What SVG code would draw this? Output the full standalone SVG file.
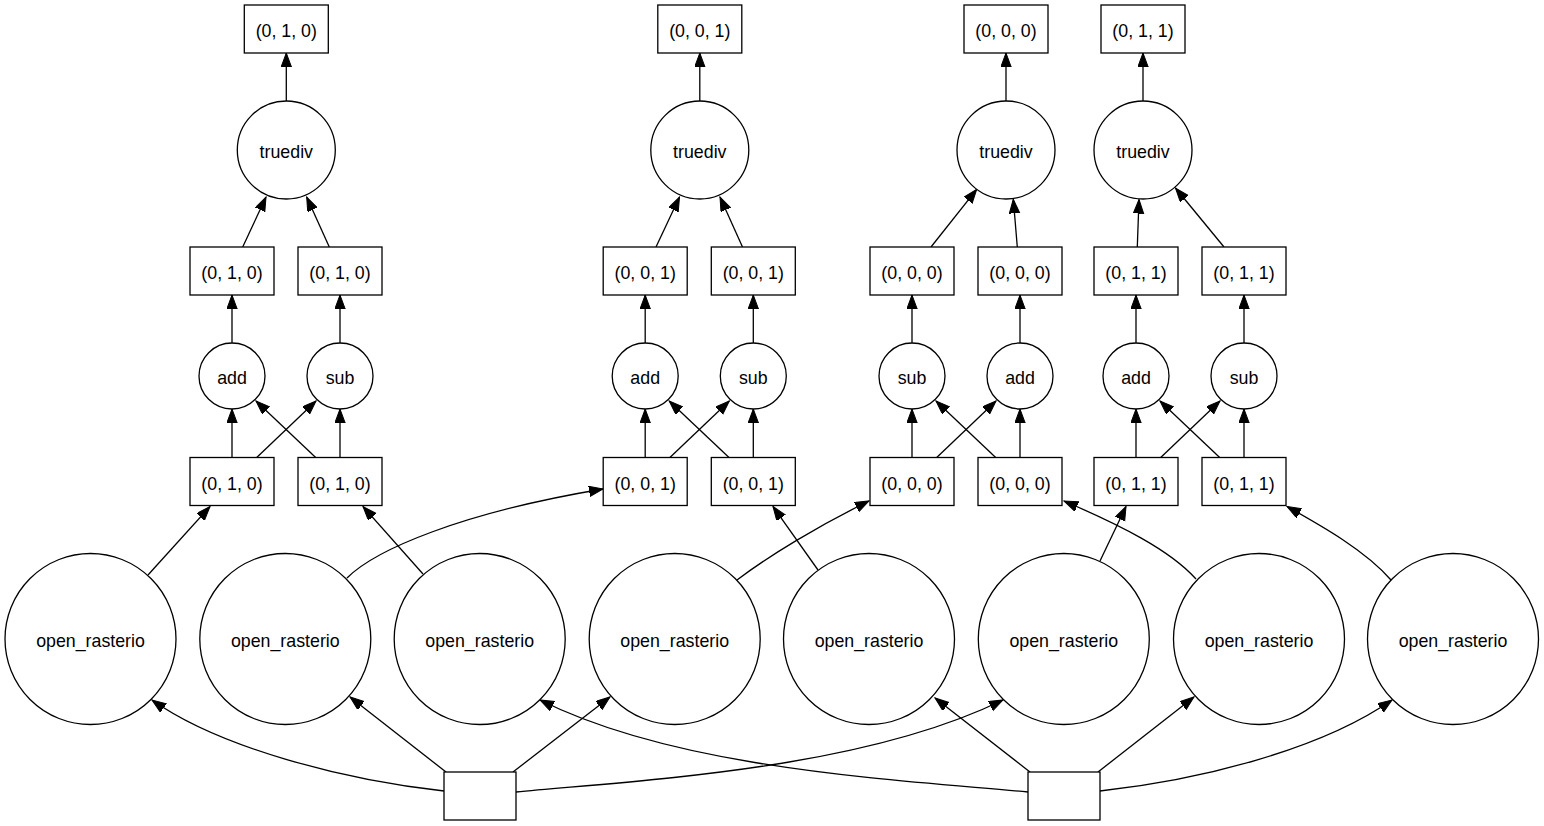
<svg xmlns="http://www.w3.org/2000/svg" width="1544" height="826" viewBox="0 0 1544 826">
<defs>
<style>
.n{fill:#fff;stroke:#000;stroke-width:1.3}
.t{font-family:"Liberation Sans",Arial,Helvetica,sans-serif;font-size:17.8px;text-anchor:middle;fill:#000}
.e{fill:none;stroke:#000;stroke-width:1.3;marker-end:url(#ah)}
</style>
<marker id="ah" markerWidth="16" markerHeight="12" refX="14" refY="5.2" orient="auto" markerUnits="userSpaceOnUse">
<path d="M0,0 L14,5.2 L0,10.4 z" fill="#000" stroke="#000" stroke-width="1"/>
</marker>
</defs>
<rect width="1544" height="826" fill="#fff"/>
<g id="connectors">
<!-- group A -->
<path class="e" d="M286.3,101 L286.3,53"/>
<path class="e" d="M242.7,247 L266,197"/>
<path class="e" d="M329.3,247 L306.7,197"/>
<path class="e" d="M232,343 L232,295"/>
<path class="e" d="M340,343 L340,295"/>
<path class="e" d="M232,457.5 L232,409"/>
<path class="e" d="M340,457.5 L340,409"/>
<path class="e" d="M256.7,457.5 L316,401"/>
<path class="e" d="M315.7,457.5 L256,401"/>
<!-- group B -->
<path class="e" d="M699.8,101 L699.8,53"/>
<path class="e" d="M656,247 L679.5,197"/>
<path class="e" d="M742.5,247 L720,197"/>
<path class="e" d="M645.2,343 L645.2,295"/>
<path class="e" d="M753.3,343 L753.3,295"/>
<path class="e" d="M645.2,457.5 L645.2,409"/>
<path class="e" d="M753.3,457.5 L753.3,409"/>
<path class="e" d="M669.9,457.5 L729.3,401"/>
<path class="e" d="M729,457.5 L669.2,401"/>
<!-- group C -->
<path class="e" d="M1006,101 L1006,53"/>
<path class="e" d="M931,247 L976.7,189.3"/>
<path class="e" d="M1017.3,247 L1013.3,199.3"/>
<path class="e" d="M912,343 L912,295"/>
<path class="e" d="M1020,343 L1020,295"/>
<path class="e" d="M912,457.5 L912,409"/>
<path class="e" d="M1020,457.5 L1020,409"/>
<path class="e" d="M936.7,457.5 L996,401"/>
<path class="e" d="M995.7,457.5 L936,401"/>
<!-- group D -->
<path class="e" d="M1143,101 L1143,53"/>
<path class="e" d="M1137.3,247 L1139,199.5"/>
<path class="e" d="M1224,247 L1175.5,188"/>
<path class="e" d="M1136,343 L1136,295"/>
<path class="e" d="M1244,343 L1244,295"/>
<path class="e" d="M1136,457.5 L1136,409"/>
<path class="e" d="M1244,457.5 L1244,409"/>
<path class="e" d="M1160.7,457.5 L1220,401"/>
<path class="e" d="M1219.7,457.5 L1160,401"/>
<!-- open_rasterio to chunks -->
<path class="e" d="M148,575 L210,506.5"/>
<path class="e" d="M347,578 C375,550 460,513 603,489"/>
<path class="e" d="M423,574 L363,506.5"/>
<path class="e" d="M737,580 C770,555 820,525 869,501"/>
<path class="e" d="M818,570 L773,506.5"/>
<path class="e" d="M1100,561 L1126,506.5"/>
<path class="e" d="M1196,579 C1170,550 1120,525 1064,501"/>
<path class="e" d="M1391,580 C1365,550 1320,525 1287,506.5"/>
<!-- bottom boxes to open_rasterio -->
<path class="e" d="M444,791 C344,780 220,748 152,700"/>
<path class="e" d="M446,772 L350,697"/>
<path class="e" d="M513,772 L610,697"/>
<path class="e" d="M516,792 C640,780 860,770 1003,700"/>
<path class="e" d="M1028,792 C900,780 680,770 540,700"/>
<path class="e" d="M1030,772 L935,698"/>
<path class="e" d="M1098,772 L1194,697"/>
<path class="e" d="M1100,791 C1200,780 1320,750 1392,700"/>
</g>
<!-- top boxes -->
<g id="top_A"><rect class="n" x="244.3" y="5" width="84" height="48"/><text class="t" x="286.3" y="37">(0, 1, 0)</text></g>
<g id="top_B"><rect class="n" x="657.8" y="5" width="84" height="48"/><text class="t" x="699.8" y="37">(0, 0, 1)</text></g>
<g id="top_C"><rect class="n" x="964" y="5" width="84" height="48"/><text class="t" x="1006" y="37">(0, 0, 0)</text></g>
<g id="top_D"><rect class="n" x="1101" y="5" width="84" height="48"/><text class="t" x="1143" y="37">(0, 1, 1)</text></g>
<!-- truediv -->
<g id="truediv_A"><circle class="n" cx="286.3" cy="150" r="49"/><text class="t" x="286.3" y="158">truediv</text></g>
<g id="truediv_B"><circle class="n" cx="699.8" cy="150" r="49"/><text class="t" x="699.8" y="158">truediv</text></g>
<g id="truediv_C"><circle class="n" cx="1006" cy="150" r="49"/><text class="t" x="1006" y="158">truediv</text></g>
<g id="truediv_D"><circle class="n" cx="1143" cy="150" r="49"/><text class="t" x="1143" y="158">truediv</text></g>
<!-- mid boxes -->
<g id="mid_A1"><rect class="n" x="190" y="247" width="84" height="48"/><text class="t" x="232" y="279">(0, 1, 0)</text></g>
<g id="mid_A2"><rect class="n" x="298" y="247" width="84" height="48"/><text class="t" x="340" y="279">(0, 1, 0)</text></g>
<g id="mid_B1"><rect class="n" x="603.2" y="247" width="84" height="48"/><text class="t" x="645.2" y="279">(0, 0, 1)</text></g>
<g id="mid_B2"><rect class="n" x="711.3" y="247" width="84" height="48"/><text class="t" x="753.3" y="279">(0, 0, 1)</text></g>
<g id="mid_C1"><rect class="n" x="870" y="247" width="84" height="48"/><text class="t" x="912" y="279">(0, 0, 0)</text></g>
<g id="mid_C2"><rect class="n" x="978" y="247" width="84" height="48"/><text class="t" x="1020" y="279">(0, 0, 0)</text></g>
<g id="mid_D1"><rect class="n" x="1094" y="247" width="84" height="48"/><text class="t" x="1136" y="279">(0, 1, 1)</text></g>
<g id="mid_D2"><rect class="n" x="1202" y="247" width="84" height="48"/><text class="t" x="1244" y="279">(0, 1, 1)</text></g>
<!-- ops -->
<g id="add_A"><circle class="n" cx="232" cy="376" r="33"/><text class="t" x="232" y="384">add</text></g>
<g id="sub_A"><circle class="n" cx="340" cy="376" r="33"/><text class="t" x="340" y="384">sub</text></g>
<g id="add_B"><circle class="n" cx="645.2" cy="376" r="33"/><text class="t" x="645.2" y="384">add</text></g>
<g id="sub_B"><circle class="n" cx="753.3" cy="376" r="33"/><text class="t" x="753.3" y="384">sub</text></g>
<g id="sub_C"><circle class="n" cx="912" cy="376" r="33"/><text class="t" x="912" y="384">sub</text></g>
<g id="add_C"><circle class="n" cx="1020" cy="376" r="33"/><text class="t" x="1020" y="384">add</text></g>
<g id="add_D"><circle class="n" cx="1136" cy="376" r="33"/><text class="t" x="1136" y="384">add</text></g>
<g id="sub_D"><circle class="n" cx="1244" cy="376" r="33"/><text class="t" x="1244" y="384">sub</text></g>
<!-- low boxes -->
<g id="low_A1"><rect class="n" x="190" y="457.5" width="84" height="48"/><text class="t" x="232" y="489.5">(0, 1, 0)</text></g>
<g id="low_A2"><rect class="n" x="298" y="457.5" width="84" height="48"/><text class="t" x="340" y="489.5">(0, 1, 0)</text></g>
<g id="low_B1"><rect class="n" x="603.2" y="457.5" width="84" height="48"/><text class="t" x="645.2" y="489.5">(0, 0, 1)</text></g>
<g id="low_B2"><rect class="n" x="711.3" y="457.5" width="84" height="48"/><text class="t" x="753.3" y="489.5">(0, 0, 1)</text></g>
<g id="low_C1"><rect class="n" x="870" y="457.5" width="84" height="48"/><text class="t" x="912" y="489.5">(0, 0, 0)</text></g>
<g id="low_C2"><rect class="n" x="978" y="457.5" width="84" height="48"/><text class="t" x="1020" y="489.5">(0, 0, 0)</text></g>
<g id="low_D1"><rect class="n" x="1094" y="457.5" width="84" height="48"/><text class="t" x="1136" y="489.5">(0, 1, 1)</text></g>
<g id="low_D2"><rect class="n" x="1202" y="457.5" width="84" height="48"/><text class="t" x="1244" y="489.5">(0, 1, 1)</text></g>
<!-- open_rasterio -->
<g id="open_1"><circle class="n" cx="90.5" cy="639" r="85.5"/><text class="t" x="90.5" y="647">open_rasterio</text></g>
<g id="open_2"><circle class="n" cx="285.3" cy="639" r="85.5"/><text class="t" x="285.3" y="647">open_rasterio</text></g>
<g id="open_3"><circle class="n" cx="479.7" cy="639" r="85.5"/><text class="t" x="479.7" y="647">open_rasterio</text></g>
<g id="open_4"><circle class="n" cx="674.7" cy="639" r="85.5"/><text class="t" x="674.7" y="647">open_rasterio</text></g>
<g id="open_5"><circle class="n" cx="869" cy="639" r="85.5"/><text class="t" x="869" y="647">open_rasterio</text></g>
<g id="open_6"><circle class="n" cx="1063.8" cy="639" r="85.5"/><text class="t" x="1063.8" y="647">open_rasterio</text></g>
<g id="open_7"><circle class="n" cx="1259" cy="639" r="85.5"/><text class="t" x="1259" y="647">open_rasterio</text></g>
<g id="open_8"><circle class="n" cx="1453" cy="639" r="85.5"/><text class="t" x="1453" y="647">open_rasterio</text></g>
<!-- bottom boxes -->
<g id="src_L"><rect class="n" x="444" y="772" width="72" height="48"/></g>
<g id="src_R"><rect class="n" x="1028" y="772" width="72" height="48"/></g>
</svg>
